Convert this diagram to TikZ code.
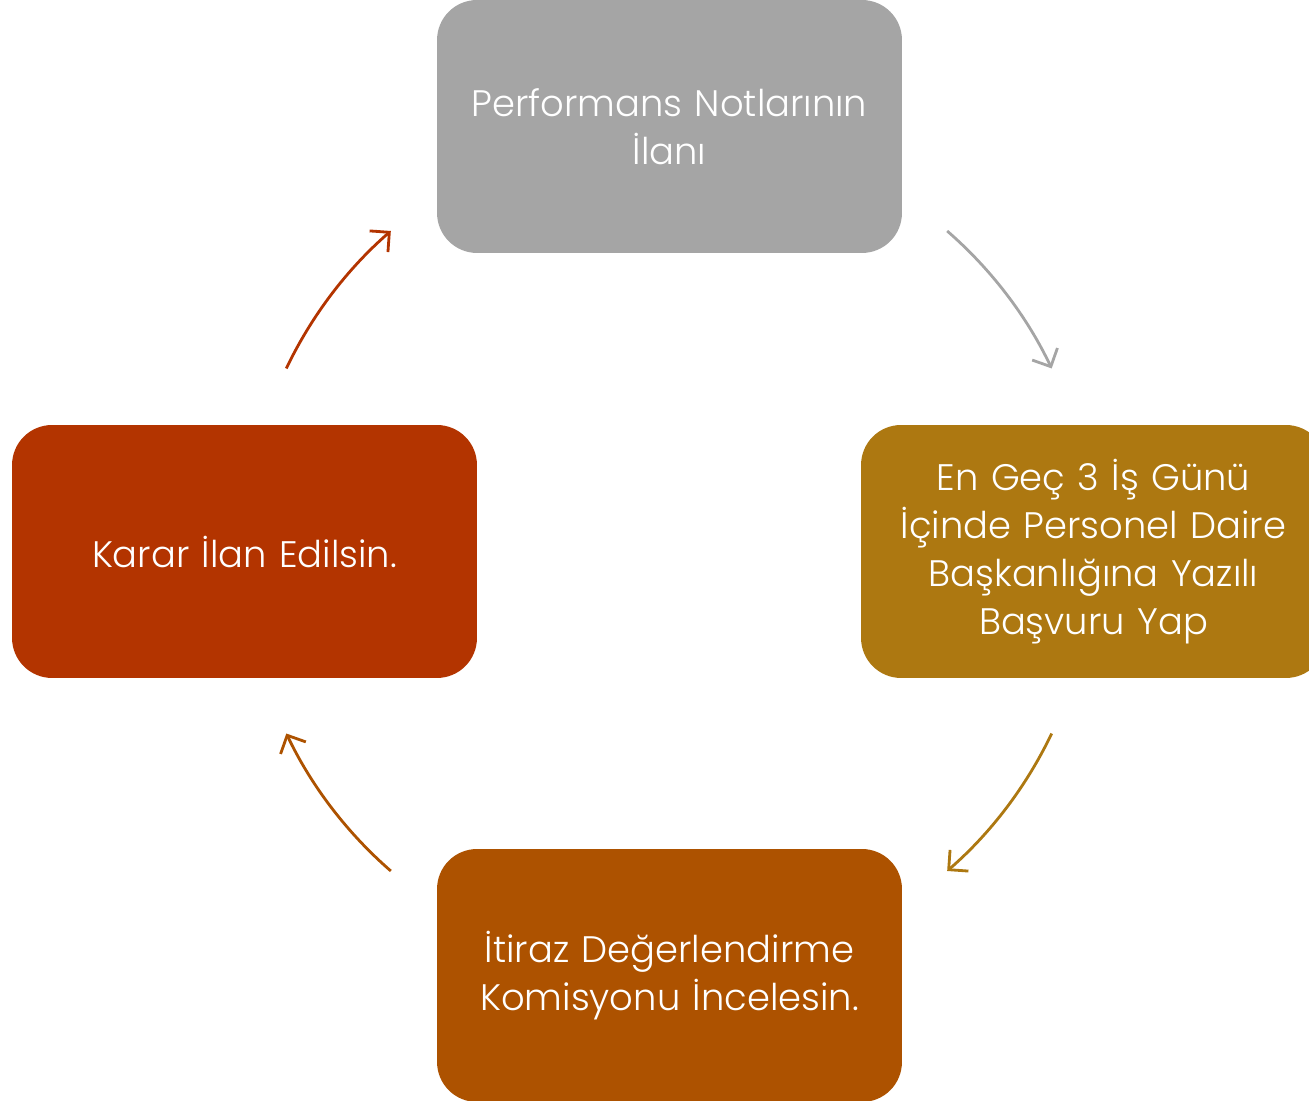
\documentclass[tikz,border=0pt]{standalone}
\usepackage{fontspec}
\setmainfont{Poppins}[UprightFont=* Light, WordSpace=2.2]
\usetikzlibrary{arrows.meta}
\definecolor{ilangray}{HTML}{A5A5A5}
\definecolor{basvurugold}{HTML}{AD7811}
\definecolor{komisyonorange}{HTML}{AD5200}
\definecolor{kararred}{HTML}{B33400}
\begin{document}
\begin{tikzpicture}[x=0.02cm, y=0.02cm,
    stepbox/.style={rounded corners=0.8cm, minimum width=9.3cm, minimum height=5.06cm,
      text width=8.9cm, align=center, text=white, inner sep=0pt,
      font=\fontsize{21}{27.3}\selectfont},
    flow/.style={line width=1.6pt, -{Straight Barb[length=2.8mm,width=5.6mm]}}]
  \useasboundingbox (0,0) rectangle (1309,1101);
  % boxes
  \node[stepbox, fill=ilangray] (ilan) at (669.5,974.5) {Performans Notlarının\\İlanı};
  \node[stepbox, fill=basvurugold] (basvuru) at (1093.5,549.5) {En Geç 3 İş Günü\\İçinde Personel Daire\\Başkanlığına Yazılı\\Başvuru Yap};
  \node[stepbox, fill=komisyonorange] (komisyon) at (669.5,125.5) {İtiraz Değerlendirme\\Komisyonu İncelesin.};
  \node[stepbox, fill=kararred] (karar) at (244.5,549.5) {Karar İlan Edilsin.};
  % arrows on a circle round the centre
  \coordinate (merkez) at (669,550);
  \draw[flow, ilangray] ([shift={(49:424)}]merkez) arc[start angle=49, end angle=25.5, radius=424];
  \draw[flow, basvurugold] ([shift={(-25.5:424)}]merkez) arc[start angle=-25.5, end angle=-49, radius=424];
  \draw[flow, komisyonorange] ([shift={(-131:424)}]merkez) arc[start angle=-131, end angle=-154.5, radius=424];
  \draw[flow, kararred] ([shift={(154.5:424)}]merkez) arc[start angle=154.5, end angle=131, radius=424];
\end{tikzpicture}
\end{document}
